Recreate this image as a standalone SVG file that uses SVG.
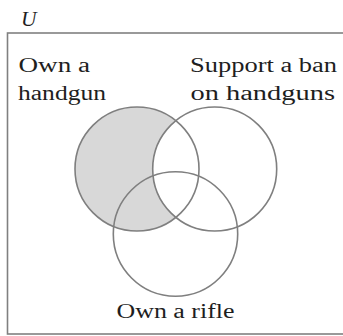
<svg xmlns="http://www.w3.org/2000/svg" width="343" height="336" viewBox="0 0 343 336">
<style>
.lbl{font-family:"Liberation Serif","Times New Roman",serif;font-size:20px;fill:#1e1e1e}
.ring{fill:none;stroke:#7f7f7f;stroke-width:1.6}
</style>
<rect x="0" y="0" width="343" height="336" fill="#ffffff"/>
<g id="universe">
<rect x="7.5" y="33" width="345" height="301" fill="#ffffff" stroke="#808080" stroke-width="1.6"/>
<text x="21" y="26" class="lbl" font-style="italic" font-size="22" textLength="15.5" lengthAdjust="spacingAndGlyphs">U</text>
</g>
<g id="shading">
<circle cx="137" cy="169" r="62" fill="#d8d8d8"/>
<circle cx="214.7" cy="169" r="62" fill="#ffffff"/>
</g>
<g id="own-handgun">
<circle class="ring" cx="137" cy="169" r="62"/>
<text class="lbl" x="18.5" y="72" textLength="71.5" lengthAdjust="spacingAndGlyphs">Own a</text>
<text class="lbl" x="18" y="99.5" textLength="88" lengthAdjust="spacingAndGlyphs">handgun</text>
</g>
<g id="support-ban">
<circle class="ring" cx="214.7" cy="169" r="62"/>
<text class="lbl" x="190" y="72" textLength="147" lengthAdjust="spacingAndGlyphs">Support a ban</text>
<text class="lbl" x="190.5" y="99.5" textLength="144.5" lengthAdjust="spacingAndGlyphs">on handguns</text>
</g>
<g id="own-rifle">
<circle class="ring" cx="175.5" cy="234" r="62.2"/>
<text class="lbl" x="116.5" y="318" textLength="118" lengthAdjust="spacingAndGlyphs">Own a rifle</text>
</g>
<g id="connectors"></g>
</svg>
